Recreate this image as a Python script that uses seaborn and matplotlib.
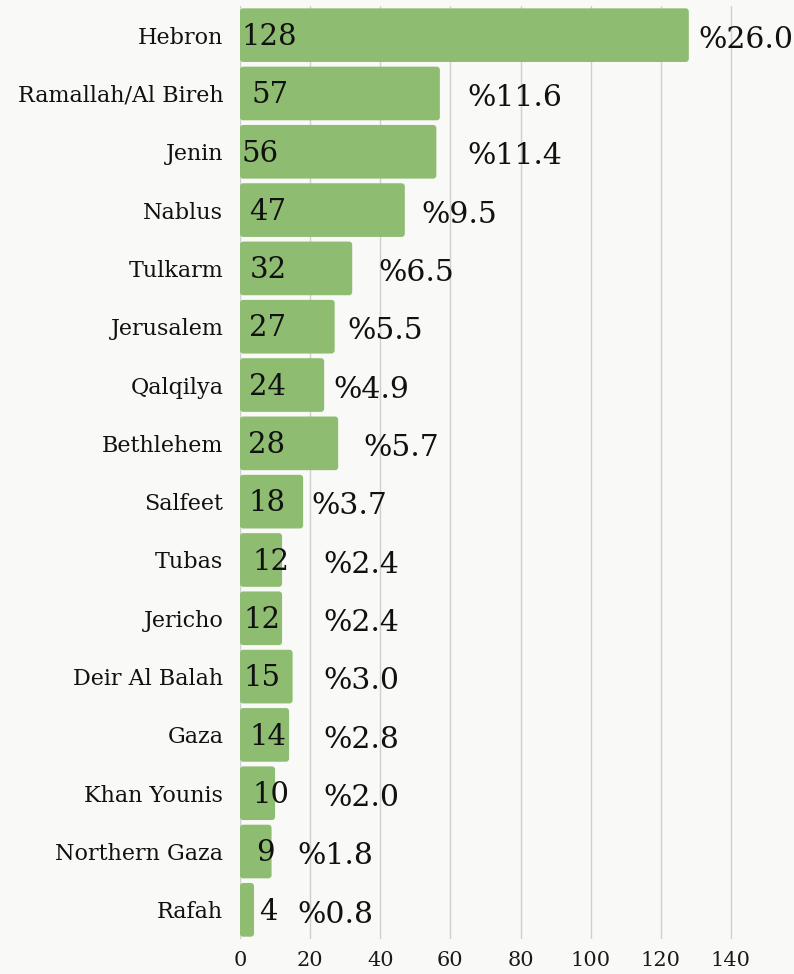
import matplotlib
matplotlib.use("Agg")
import matplotlib.pyplot as plt
import seaborn as sns
import pandas as pd
from matplotlib.patches import FancyBboxPatch

governorates = ["Hebron", "Ramallah/Al Bireh", "Jenin", "Nablus", "Tulkarm", "Jerusalem",
                "Qalqilya", "Bethlehem", "Salfeet", "Tubas", "Jericho", "Deir Al Balah",
                "Gaza", "Khan Younis", "Northern Gaza", "Rafah"]
counts = [128, 57, 56, 47, 32, 27, 24, 28, 18, 12, 12, 15, 14, 10, 9, 4]
percents = ["26.0", "11.6", "11.4", "9.5", "6.5", "5.5", "4.9", "5.7", "3.7", "2.4", "2.4",
            "3.0", "2.8", "2.0", "1.8", "0.8"]
x_ticks = [0, 20, 40, 60, 80, 100, 120, 140]

df = pd.DataFrame({"gov": governorates, "count": counts})

sns.set_theme(style="white")
plt.rcParams["font.family"] = ["DejaVu Serif"]

BG = "#f9f9f7"
GREEN = "#8ebc70"
fig = plt.figure(figsize=(7.94, 9.74), dpi=100, facecolor=BG)
ax = fig.add_axes([240 / 794, 1 - 939 / 974, 1 - 240 / 794, 933 / 974])
ax.set_facecolor(BG)

sns.barplot(data=df, x="count", y="gov", color=GREEN, width=0.92, saturation=1, ax=ax)

# replace bars with slightly rounded ones
for p in list(ax.patches):
    x0, y0, w, h = p.get_x(), p.get_y(), p.get_width(), p.get_height()
    p.remove()
    fb = FancyBboxPatch((x0, y0), w, h, boxstyle="round,pad=0,rounding_size=0.9",
                        mutation_aspect=3.5 / 58.3, facecolor=GREEN, edgecolor="none", zorder=2)
    ax.add_patch(fb)

ax.set_xlim(0, 158)
ax.set_ylim(15.5, -0.5)
ax.set_xticks(x_ticks)
ax.set_xticklabels([str(t) for t in x_ticks], fontsize=15, color="#1a1a1a")
ax.tick_params(axis="y", labelsize=16, colors="#111111", length=0, pad=12)
ax.tick_params(axis="x", length=0, pad=9)
ax.set_xlabel("")
ax.set_ylabel("")
ax.xaxis.grid(True, color="#cfcfcf", linewidth=1)
ax.set_axisbelow(True)
for s in ax.spines.values():
    s.set_visible(False)

# percent label start positions (data units) as in the original layout
pct_x = [130.6, 64.9, 64.9, 51.7, 39.4, 30.6, 26.6, 35.1, 20.3, 23.7, 23.7, 23.7, 23.7, 23.7, 16.3, 16.3]
num_x = [0.4, 3.2, 0.4, 2.7, 2.7, 2.7, 2.7, 2.4, 2.4, 3.5, 0.9, 0.9, 2.7, 3.5, 4.7, 5.5]
for i, (c, pc) in enumerate(zip(counts, percents)):
    ax.text(num_x[i], i + 0.03, str(c), ha="left", va="center", fontsize=21, color="#111111", zorder=3)
    ax.text(pct_x[i], i + 0.08, "%" + pc, ha="left", va="center", fontsize=21.5, color="#111111", zorder=3)

fig.savefig("out.png", dpi=100, facecolor=BG)
